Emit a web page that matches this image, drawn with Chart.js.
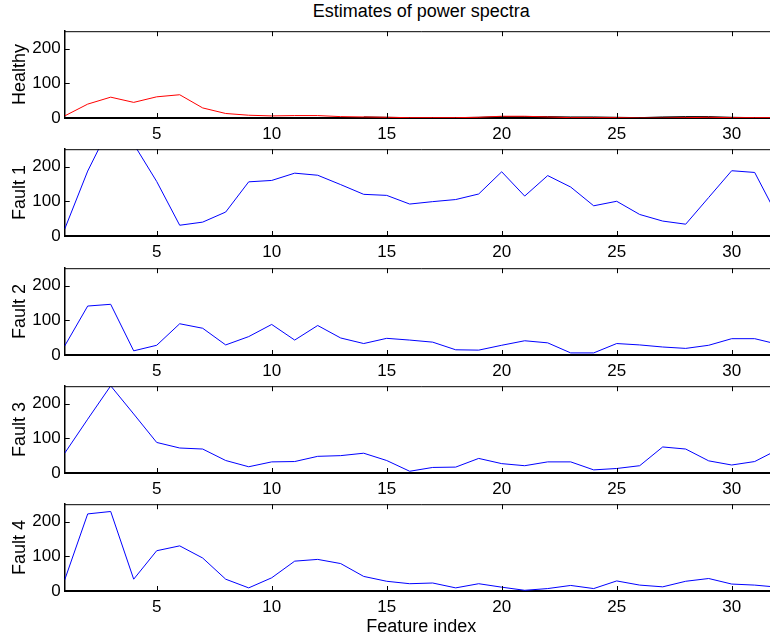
<!DOCTYPE html>
<html><head><meta charset="utf-8">
<script src="https://cdn.jsdelivr.net/npm/chart.js@4"></script>
<style>
html,body{margin:0;padding:0;background:#fff;overflow:hidden;width:770px;height:637px;}
#wrap{position:relative;width:770px;height:637px;overflow:hidden;}
.panel{position:absolute;left:0;}
#title{position:absolute;left:64.7px;width:713px;top:0px;text-align:center;font-family:'Liberation Sans',Arial,sans-serif;font-size:18px;line-height:22px;color:#000;white-space:nowrap;}
</style></head><body>
<div id="wrap"><div id="title">Estimates of power spectra</div></div>
<script>
// ---- data ----
const featureIndex = [1,2,3,4,5,6,7,8,9,10,11,12,13,14,15,16,17,18,19,20,21,22,23,24,25,26,27,28,29,30,31,32];
const xTicks = [5,10,15,20,25,30];
const yTicks = [0,100,200];
const panelNames = ['Healthy','Fault 1','Fault 2','Fault 3','Fault 4'];
const healthyRed   = [6,40,60,45,61,67,29,13,8,6,7,7,4,3,2,1,1,1,2,5,5,3,1,1,1,0,0,1,2,1,1,1];
// second (black) healthy trace: only the part that shows from under the red one
const healthyBlack = [null,null,null,null,null,null,null,null,null,null,null,null,null,3,2,1,1,1,2,4,4,4,3,3,2,1,3,4,4,2,1,1];
const fault1 = [20,187,320,265,157,31,40,69,156,160,181,175,148,120,117,92,99,105,121,185,115,174,141,87,100,62,43,34,111,188,183,56];
const fault2 = [26,141,146,12,28,90,77,29,53,88,43,85,49,33,48,43,37,15,14,28,41,35,6,6,33,29,23,19,28,47,47,31];
const fault3 = [57,155,251,170,88,72,69,36,18,32,33,48,50,57,36,5,16,17,42,27,21,32,32,9,13,21,75,69,35,23,33,67];
const fault4 = [32,222,229,34,116,130,95,34,9,38,86,91,79,42,28,21,23,9,21,11,2,7,16,7,29,17,12,28,36,20,17,11];

const panelSeries = [
  [{values: healthyRed, color:'#ff0000', order:0}, {values: healthyBlack, color:'#000000', order:1}],
  [{values: fault1, color:'#0000ff', order:0}],
  [{values: fault2, color:'#0000ff', order:0}],
  [{values: fault3, color:'#0000ff', order:0}],
  [{values: fault4, color:'#0000ff', order:0}]
];

// ---- layout ----
const FONT = "'Liberation Sans', Arial, Helvetica, sans-serif";
const panelTops = [28.5, 147, 265.5, 383.5, 502];
const areaH = 89;
const padTop = 12;
const yAxisW = 64.7;
const canvasW = 782;

const frameTicks = {
  id:'frameTicks',
  afterDraw(chart){
    const {ctx, chartArea:a, scales:{x,y}} = chart;
    ctx.save();
    ctx.strokeStyle='#000';
    ctx.lineWidth=1;
    ctx.beginPath();
    ctx.moveTo(a.left, a.top+0.5); ctx.lineTo(a.right, a.top+0.5);
    xTicks.forEach(v=>{
      const px = Math.round(x.getPixelForValue(v))+0.5;
      ctx.moveTo(px,a.bottom); ctx.lineTo(px,a.bottom-5);
      ctx.moveTo(px,a.top); ctx.lineTo(px,a.top+5);
    });
    yTicks.forEach(v=>{
      const py = Math.round(y.getPixelForValue(v))+0.5;
      ctx.moveTo(a.left,py); ctx.lineTo(a.left+5,py);
    });
    ctx.stroke();
    ctx.restore();
  }
};

const wrap = document.getElementById('wrap');
panelNames.forEach((name, i)=>{
  const last = i === panelNames.length-1;
  const hx = last ? 48 : 28;
  const H = padTop + areaH + hx;
  const div = document.createElement('div');
  div.className='panel';
  div.style.top = (panelTops[i]-padTop)+'px';
  div.style.width = canvasW+'px';
  div.style.height = H+'px';
  const cv = document.createElement('canvas');
  cv.width = canvasW; cv.height = H;
  cv.style.width = canvasW+'px'; cv.style.height = H+'px';
  div.appendChild(cv);
  wrap.appendChild(div);

  new Chart(cv, {
    type:'line',
    data:{
      datasets: panelSeries[i].map(s=>({
        data: s.values.map((v,k)=>({x: featureIndex[k], y: v})),
        borderColor: s.color,
        borderWidth: 1,
        pointRadius: 0,
        tension: 0,
        fill: false,
        spanGaps: false,
        order: s.order
      }))
    },
    options:{
      responsive:false,
      animation:false,
      events:[],
      layout:{padding:{top:padTop, right: canvasW - 777.7, left:0, bottom:0}},
      plugins:{legend:{display:false}, tooltip:{enabled:false}, title:{display:false}},
      scales:{
        x:{
          type:'linear', min:1, max:32,
          afterBuildTicks:s=>{ s.ticks = xTicks.map(v=>({value:v})); },
          afterFit:s=>{ s.height = hx; },
          grid:{display:false, drawTicks:false, tickLength:0},
          border:{display:true, color:'#000', width:2},
          ticks:{color:'#000', font:{family:FONT, size:17}, padding:6, maxRotation:0, autoSkip:false},
          title:{display:last, text:'Feature index', color:'#000', font:{family:FONT, size:18}, padding:{top:0,bottom:1}}
        },
        y:{
          type:'linear', min:0, max:250,
          afterBuildTicks:s=>{ s.ticks = yTicks.map(v=>({value:v})); },
          afterFit:s=>{ s.width = yAxisW; },
          grid:{display:false, drawTicks:false, tickLength:0},
          border:{display:true, color:'#000', width:1.5},
          ticks:{color:'#000', font:{family:FONT, size:17}, padding:4},
          title:{display:true, text:name, color:'#000', font:{family:FONT, size:18}, padding:9}
        }
      }
    },
    plugins:[frameTicks]
  });
});
</script>
</body></html>
